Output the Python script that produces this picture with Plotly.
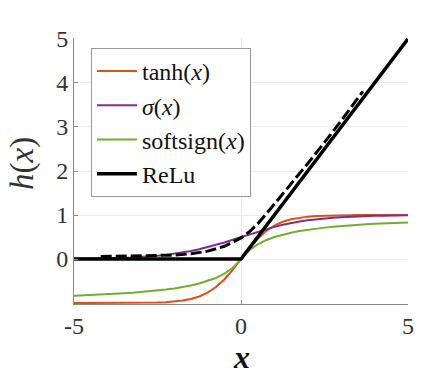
import plotly.graph_objects as go

# sample positions
x_vals = [-5, -4.75, -4.5, -4.25, -4, -3.75, -3.5, -3.25, -3, -2.75, -2.5, -2.25, -2, -1.75, -1.5, -1.25, -1, -0.75, -0.5, -0.25,
          0, 0.25, 0.5, 0.75, 1, 1.25, 1.5, 1.75, 2, 2.25, 2.5, 2.75, 3, 3.25, 3.5, 3.75, 4, 4.25, 4.5, 4.75, 5]

tanh_pos = [0, 0.2449, 0.4621, 0.6351, 0.7616, 0.8483, 0.9051, 0.9414, 0.9640, 0.9780, 0.9866, 0.9919, 0.9951,
            0.9970, 0.9982, 0.9989, 0.9993, 0.9996, 0.9998, 0.9999, 0.9999]
tanh_vals = [-v for v in tanh_pos[:0:-1]] + tanh_pos

sig_pos = [0.5, 0.5622, 0.6225, 0.6792, 0.7311, 0.7773, 0.8176, 0.8520, 0.8808, 0.9047, 0.9241, 0.9399, 0.9526,
           0.9627, 0.9707, 0.9770, 0.9820, 0.9859, 0.9890, 0.9914, 0.9933]
sig_vals = [round(1 - v, 4) for v in sig_pos[:0:-1]] + sig_pos

soft_pos = [0, 0.2, 0.3333, 0.4286, 0.5, 0.5556, 0.6, 0.6364, 0.6667, 0.6923, 0.7143, 0.7333, 0.75,
            0.7647, 0.7778, 0.7895, 0.8, 0.8095, 0.8182, 0.8261, 0.8333]
softsign_vals = [-v for v in soft_pos[:0:-1]] + soft_pos

relu_x = [-5, 0, 5]
relu_y = [0, 0, 5]

dash_x = [-4.2, -3.5, -3, -2.5, -2, -1.5, -1, -0.5, 0, 0.25, 0.5, 0.75, 1, 1.5, 2, 2.5, 3, 3.65]
dash_y = [0.06, 0.065, 0.07, 0.08, 0.09, 0.12, 0.18, 0.29, 0.48, 0.62, 0.8, 1.02, 1.25, 1.7, 2.17, 2.65, 3.14, 3.81]

names = ["tanh(<i>x</i>)", "<i>σ</i>(<i>x</i>)", "softsign(<i>x</i>)", "ReLu"]
colors = ["#D95319", "#7E2F8E", "#77AC30", "#000000"]

x_ticks = [-5, 0, 5]
y_ticks = [0, 1, 2, 3, 4, 5]

SERIF = "Liberation Serif, DejaVu Serif, serif"

fig = go.Figure()
fig.add_trace(go.Scatter(x=x_vals, y=tanh_vals, mode="lines", name=names[0],
                         line=dict(color=colors[0], width=2)))
fig.add_trace(go.Scatter(x=x_vals, y=sig_vals, mode="lines", name=names[1],
                         line=dict(color=colors[1], width=2)))
fig.add_trace(go.Scatter(x=x_vals, y=softsign_vals, mode="lines", name=names[2],
                         line=dict(color=colors[2], width=2)))
fig.add_trace(go.Scatter(x=relu_x, y=relu_y, mode="lines", name=names[3],
                         line=dict(color=colors[3], width=3.5)))
fig.add_trace(go.Scatter(x=dash_x, y=dash_y, mode="lines", showlegend=False,
                         line=dict(color="#000000", width=3, dash="11px,4px")))

fig.update_layout(
    width=443, height=386,
    margin=dict(l=74, r=35, t=38, b=82),
    paper_bgcolor="white", plot_bgcolor="white",
    font=dict(family=SERIF, size=24, color="#333333"),
    legend=dict(x=(91 - 74) / 334, y=(304 - 48) / 266, xanchor="left", yanchor="top",
                bgcolor="white", bordercolor="#999999", borderwidth=1,
                font=dict(family=SERIF, size=24, color="#111111"),
                itemwidth=40, tracegroupgap=0),
    xaxis=dict(range=[-5, 5], tickvals=x_ticks, ticktext=[str(v) for v in x_ticks],
               showgrid=True, gridcolor="#ebebeb", gridwidth=1,
               showline=True, linecolor="#8a8a8a", linewidth=1,
               ticks="inside", ticklen=4, tickcolor="#8a8a8a",
               zeroline=False, tickfont=dict(family=SERIF, size=24, color="#333333")),
    yaxis=dict(range=[-1.02, 5.02], tickvals=y_ticks, ticktext=[str(v) for v in y_ticks],
               showgrid=True, gridcolor="#ebebeb", gridwidth=1,
               showline=True, linecolor="#8a8a8a", linewidth=1,
               ticks="inside", ticklen=4, tickcolor="#8a8a8a",
               zeroline=False, tickfont=dict(family=SERIF, size=24, color="#333333")),
    annotations=[
        dict(text="<b><i>x</i></b>", xref="paper", yref="paper",
             x=0.5, y=(304 - 357) / 266, xanchor="center", yanchor="middle",
             showarrow=False, font=dict(family=SERIF, size=32, color="#111111")),
        dict(text="<i>h</i>(<i>x</i>)", xref="paper", yref="paper",
             x=(22 - 74) / 334, y=(304 - 164) / 266, xanchor="center", yanchor="middle",
             textangle=-90, showarrow=False, font=dict(family=SERIF, size=33, color="#333333")),
    ],
)

fig.write_html("out.html", config={"displayModeBar": False},
               post_script="document.body.style.margin='0';")
